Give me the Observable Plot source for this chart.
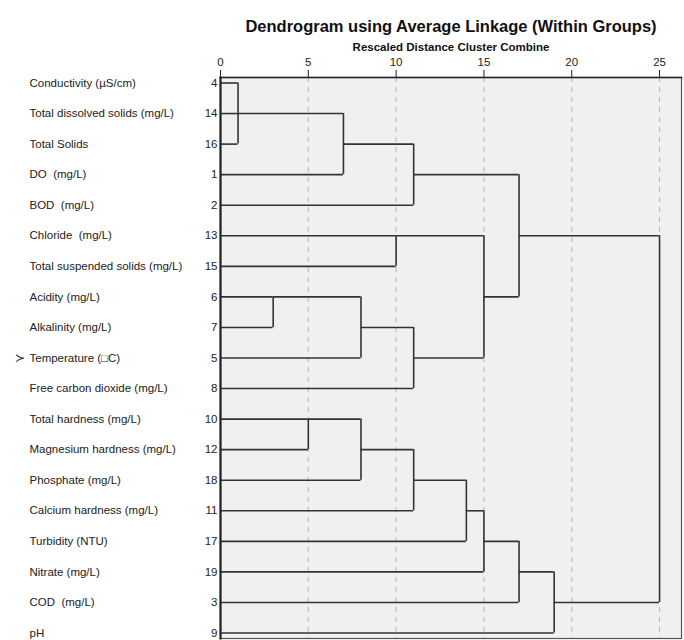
<!DOCTYPE html>
<html><head><meta charset="utf-8">
<script src="https://cdn.jsdelivr.net/npm/d3@7"></script>
<script src="https://cdn.jsdelivr.net/npm/@observablehq/plot@0.6"></script>
<style>body{margin:0;background:#fff} svg{display:block}</style>
</head><body><div id="chart"></div>
<script>
const title = "Dendrogram using Average Linkage (Within Groups)";
const subtitle = "Rescaled Distance Cluster Combine";
const variableNames = [
  "Conductivity (\u00b5S/cm)", "Total dissolved solids (mg/L)", "Total Solids",
  "DO  (mg/L)", "BOD  (mg/L)", "Chloride  (mg/L)", "Total suspended solids (mg/L)",
  "Acidity (mg/L)", "Alkalinity (mg/L)", "Temperature (\u25a1C)", "Free carbon dioxide (mg/L)",
  "Total hardness (mg/L)", "Magnesium hardness (mg/L)", "Phosphate (mg/L)",
  "Calcium hardness (mg/L)", "Turbidity (NTU)", "Nitrate (mg/L)", "COD  (mg/L)", "pH"
];
const caseIds = [4, 14, 16, 1, 2, 13, 15, 6, 7, 5, 8, 10, 12, 18, 11, 17, 19, 3, 9];
// merges: node indices (0-18 leaves in display order, 19+ clusters in merge order)
const mergeLeft   = [0, 19, 20, 21, 7, 23, 24, 5, 26, 22, 11, 29, 30, 31, 32, 33, 34, 28];
const mergeRight  = [2, 1, 3, 4, 8, 9, 10, 6, 25, 27, 12, 13, 14, 15, 16, 17, 18, 35];
const mergeHeight = [1, 1, 7, 11, 3, 8, 11, 10, 15, 17, 5, 8, 11, 14, 15, 17, 19, 25];
const axisTicks = [0, 5, 10, 15, 20, 25];
const markedRow = 9;

const n = caseIds.length;
const pos = d3.range(n), hgt = new Array(n).fill(0);
const hSegs = [], vSegs = [];
mergeLeft.forEach((a, i) => {
  const b = mergeRight[i], h = mergeHeight[i];
  hSegs.push({y: pos[a], x1: hgt[a], x2: h}, {y: pos[b], x1: hgt[b], x2: h});
  vSegs.push({x: h, y1: pos[a], y2: pos[b]});
  pos.push(Math.floor((pos[a] + pos[b]) / 2));
  hgt.push(h);
});

const plot = Plot.plot({
  width: 684, height: 640,
  marginTop: 77, marginLeft: 220, marginRight: 3, marginBottom: 2,
  x: {domain: [0, 26.25]},
  y: {domain: [-0.18, 18.18], reverse: true},
  style: {fontFamily: "'Liberation Sans', Arial, sans-serif", fontSize: "11.5px", color: "#222", background: "#fff"},
  marks: [
    Plot.frame({fill: "#f0f0f0", stroke: "#555", strokeWidth: 1.2}),
    Plot.gridX(axisTicks.slice(1), {stroke: "#b5b5b5", strokeOpacity: 1, strokeDasharray: "5,5"}),
    Plot.ruleY(hSegs, {y: "y", x1: "x1", x2: "x2", stroke: "#333", strokeWidth: 1.6}),
    Plot.ruleX(vSegs, {x: "x", y1: "y1", y2: "y2", stroke: "#333", strokeWidth: 1.6}),
    Plot.frame({anchor: "top", stroke: "#222", strokeWidth: 1.5}),
    Plot.frame({anchor: "left", stroke: "#222", strokeWidth: 2.2}),
    Plot.axisX(axisTicks, {anchor: "top", tickSize: 8, tickPadding: 4, label: null, fontSize: 11.5, stroke: "#222"}),
    Plot.axisY(d3.range(n), {anchor: "left", tickSize: 0, tickPadding: 3, tickFormat: i => String(caseIds[i]), label: null, fontSize: 11.5}),
    Plot.text(d3.range(n), {y: d => d, text: i => variableNames[i], frameAnchor: "left", dx: -191, textAnchor: "start", fontSize: 11.5, fill: "#222"}),
    Plot.text([markedRow], {y: d => d, text: () => "\u227b", frameAnchor: "left", dx: -206, textAnchor: "start", fontSize: 11.5, fill: "#222"}),
    Plot.text([title], {frameAnchor: "top", dy: -57, fontSize: 16.5, fontWeight: "bold", fill: "#111"}),
    Plot.text([subtitle], {frameAnchor: "top", dy: -35, fontSize: 11.5, fontWeight: "bold", fill: "#111"})
  ]
});
document.getElementById("chart").append(plot);
</script>
</body></html>
